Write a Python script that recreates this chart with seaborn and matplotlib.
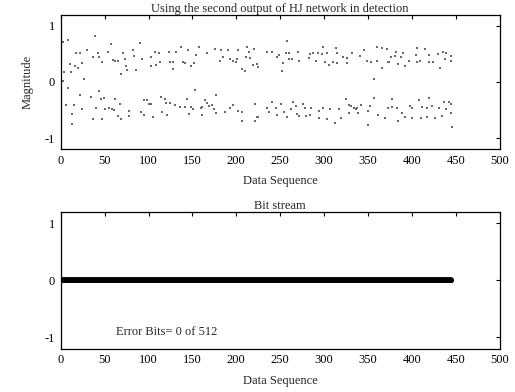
import matplotlib
matplotlib.use("Agg")
import matplotlib.pyplot as plt
import seaborn as sns
import pandas as pd

# ---- data ----
pos_x = [3.1, 8.0, 38.7, 57.1, 90.0, 17.6, 21.8, 30.3, 42.5, 53.6, 70.5, 82.0, 107.7, 10.3, 16.1,
         19.5, 24.5, 37.2, 43.3, 47.5, 59.4, 61.7, 65.5, 72.8, 74.3, 75.9, 83.5, 92.7, 102.7, 108.4,
         103.0, 3.8, 11.5, 26.4, 69.0, 85.5, 2.0,
         137.1, 157.0, 144.8, 123.0, 131.4, 166.7, 176.2, 182.4, 190.0, 202.3, 211.9, 220.3, 214.2,
         111.5, 154.4, 185.4, 193.1, 200.4, 210.7, 215.7, 112.6, 124.1, 127.9, 139.1, 141.0, 151.7,
         181.6, 195.8, 199.6, 206.1, 210.0, 219.5, 223.4, 128.4, 148.6,
         257.8, 298.5, 313.5, 234.5, 240.2, 248.7, 256.4, 260.6, 270.2, 284.3, 287.4, 293.2, 297.8,
         303.6, 314.4, 322.1, 325.9, 331.7, 223.7, 225.3, 252.1, 252.9, 259.8, 264.0, 271.7, 283.2,
         290.5, 301.6, 305.4, 310.4, 314.4, 326.6, 246.4,
         359.8, 365.5, 371.3, 405.7, 414.9, 345.2, 381.6, 390.4, 435.2, 429.5, 341.0, 376.2, 380.8,
         388.1, 404.9, 419.9, 439.0, 444.7, 349.4, 354.0, 360.5, 374.3, 384.7, 392.0, 396.9, 405.4,
         409.6, 419.2, 424.5, 438.3, 444.8, 366.3, 373.2, 432.6, 357.1]
pos_y = [0.71, 0.75, 0.82, 0.67, 0.69, 0.51, 0.51, 0.57, 0.52, 0.54, 0.51, 0.57, 0.53, 0.32, 0.28,
         0.25, 0.34, 0.45, 0.44, 0.36, 0.39, 0.38, 0.38, 0.40, 0.29, 0.21, 0.46, 0.40, 0.44, 0.31,
         0.28, 0.18, 0.18, 0.05, 0.14, 0.21, 0.02,
         0.63, 0.63, 0.57, 0.54, 0.53, 0.52, 0.59, 0.57, 0.57, 0.57, 0.63, 0.58, 0.54,
         0.52, 0.48, 0.45, 0.41, 0.40, 0.45, 0.42, 0.36, 0.36, 0.36, 0.36, 0.33, 0.33,
         0.37, 0.38, 0.36, 0.23, 0.19, 0.31, 0.32, 0.23, 0.28,
         0.73, 0.63, 0.61, 0.54, 0.54, 0.48, 0.52, 0.52, 0.54, 0.49, 0.51, 0.52, 0.50,
         0.52, 0.51, 0.45, 0.43, 0.51, 0.32, 0.26, 0.20, 0.33, 0.40, 0.40, 0.38, 0.42,
         0.38, 0.36, 0.31, 0.36, 0.33, 0.33, 0.44,
         0.63, 0.60, 0.58, 0.61, 0.58, 0.56, 0.54, 0.51, 0.53, 0.49, 0.46, 0.45, 0.46,
         0.45, 0.48, 0.48, 0.51, 0.47, 0.38, 0.35, 0.38, 0.35, 0.32, 0.29, 0.38, 0.36,
         0.38, 0.36, 0.35, 0.40, 0.38, 0.24, 0.36, 0.24, 0.05]
neg_x = [8.4, 43.7, 21.5, 34.9, 46.0, 49.4, 61.3, 94.3, 98.1, 100.4, 6.1, 14.6, 24.5, 40.6, 50.6,
         55.2, 58.2, 60.5, 67.1, 77.8, 91.6, 102.7, 13.0, 36.8, 46.7, 65.1, 68.6, 77.4, 95.4, 105.4,
         12.3,
         153.3, 114.2, 176.6, 118.4, 143.7, 164.8, 120.3, 124.9, 130.3, 136.4, 141.0, 148.7, 150.6,
         159.4, 161.3, 167.1, 169.4, 172.4, 174.7, 187.0, 192.7, 196.6, 202.3, 206.1, 221.5, 224.2,
         206.1, 221.5, 121.5, 114.9, 146.0, 161.3, 177.4,
         240.2, 324.5, 250.9, 234.5, 244.8, 262.8, 268.2, 275.9, 278.6, 285.1, 294.3, 298.9, 306.6,
         317.4, 328.4, 331.1, 334.2, 337.3, 223.7, 236.8, 246.8, 254.4, 258.2, 269.0, 272.0, 279.7,
         284.3, 293.9, 303.4, 313.0, 318.8, 328.7, 264.4,
         357.5, 377.8, 408.4, 419.2, 437.2, 442.2, 341.8, 352.1, 372.4, 377.8, 383.5, 397.7, 400.8,
         411.5, 416.9, 423.0, 431.4, 439.1, 444.5, 336.4, 338.7, 350.2, 361.7, 369.3, 384.7, 388.5,
         391.9, 399.9, 410.7, 417.2, 426.4, 434.5, 445.2, 349.8, 445.9]
neg_y = [-0.11, -0.17, -0.24, -0.26, -0.30, -0.28, -0.31, -0.33, -0.33, -0.40, -0.41, -0.41, -0.49,
         -0.47, -0.49, -0.47, -0.48, -0.50, -0.40, -0.52, -0.54, -0.40, -0.57, -0.66, -0.66, -0.61,
         -0.66, -0.60, -0.59, -0.62, -0.74,
         -0.15, -0.26, -0.23, -0.30, -0.30, -0.32, -0.38, -0.38, -0.41, -0.45, -0.45, -0.44, -0.48,
         -0.46, -0.45, -0.38, -0.42, -0.41, -0.48, -0.54, -0.46, -0.41, -0.52, -0.53, -0.40, -0.62,
         -0.70, -0.70, -0.59, -0.54, -0.57, -0.58, -0.56,
         -0.35, -0.31, -0.40, -0.46, -0.47, -0.48, -0.43, -0.40, -0.47, -0.47, -0.52, -0.47, -0.49,
         -0.48, -0.41, -0.43, -0.47, -0.46, -0.62, -0.53, -0.59, -0.54, -0.62, -0.57, -0.61, -0.60,
         -0.58, -0.64, -0.66, -0.73, -0.64, -0.55, -0.35,
         -0.29, -0.30, -0.32, -0.28, -0.36, -0.35, -0.41, -0.42, -0.46, -0.45, -0.47, -0.43, -0.46,
         -0.44, -0.47, -0.43, -0.47, -0.48, -0.40, -0.48, -0.55, -0.51, -0.58, -0.65, -0.69, -0.55,
         -0.62, -0.64, -0.64, -0.63, -0.65, -0.60, -0.55, -0.76, -0.80]

bit_x = list(range(1, 446))
bit_err = [0] * 445
x_ticks = [0, 50, 100, 150, 200, 250, 300, 350, 400, 450, 500]
y_ticks = [-1, 0, 1]
title_top = "Using the second output of HJ network in detection"
title_bottom = "Bit stream"
note = "Error Bits= 0 of 512"

# ---- styling ----
sns.set_style("white")
plt.rcParams["font.family"] = ["Liberation Serif", "DejaVu Serif"]
plt.rcParams["font.size"] = 9

fig = plt.figure(figsize=(5.15, 3.92), dpi=100)
ax1 = fig.add_axes([0.118, 0.619, 0.852, 0.344])
ax2 = fig.add_axes([0.118, 0.110, 0.852, 0.350])

scatter_df = pd.DataFrame({"x": pos_x + neg_x, "y": pos_y + neg_y})
sns.scatterplot(data=scatter_df, x="x", y="y", ax=ax1, s=2, color="#6a6a6a",
                linewidth=0, marker="s")

bit_df = pd.DataFrame({"x": bit_x, "e": bit_err})
sns.lineplot(data=bit_df, x="x", y="e", ax=ax2, color="black", linewidth=4.2,
             marker="o", markersize=3.5, markeredgewidth=0)

for ax in (ax1, ax2):
    ax.set_xlim(0, 500)
    ax.set_ylim(-1.2, 1.2)
    ax.set_xticks(x_ticks)
    ax.set_yticks(y_ticks)
    ax.set_yticklabels([str(t) for t in y_ticks])
    ax.tick_params(direction="in", length=3, width=0.8, top=True, right=True,
                   labelsize=9, colors="black", pad=4)
    for s in ax.spines.values():
        s.set_visible(True)
        s.set_color("black")
        s.set_linewidth(0.9)
    ax.set_xlabel("Data Sequence", fontsize=9, labelpad=6)

ax1.set_ylabel("Magnitude", fontsize=9, labelpad=8)
ax2.set_ylabel("")
ax1.set_title(title_top, fontsize=9, pad=2)
ax2.set_title(title_bottom, fontsize=9, pad=2)
ax2.text(63, -0.9, note, fontsize=9, ha="left", va="center")

fig.savefig("out.png", dpi=100)
